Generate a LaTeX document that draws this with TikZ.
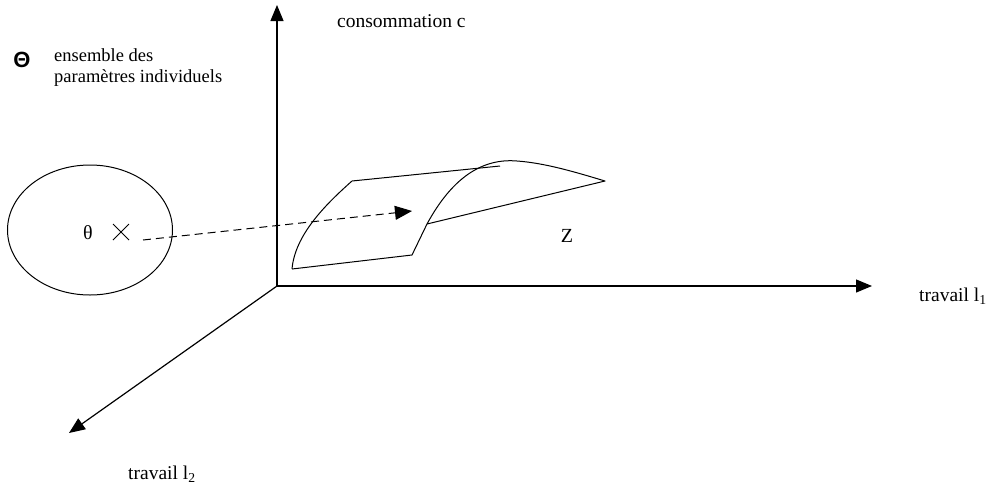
\documentclass[tikz,border=0pt]{standalone}
\usepackage{fontspec}
\setmainfont{Liberation Serif}
\newfontfamily\sansbold{Liberation Sans}
\usetikzlibrary{arrows.meta,shapes.geometric,shapes.misc}
\begin{document}
\begin{tikzpicture}[x=1pt,y=-1pt,
  axisline/.style={line width=1.2pt,-{Triangle[length=16pt,width=13pt]}},
  surf/.style={line width=1pt,line join=round},
  bigtxt/.style={inner sep=0pt,anchor=west,font=\fontsize{19.5}{24}\selectfont},
  smalltxt/.style={inner sep=0pt,anchor=north west,align=left,font=\fontsize{18.5}{21}\selectfont},
  dasharrow/.style={line width=1pt,dash pattern=on 8pt off 5pt,-{Triangle[length=17pt,width=14pt]}}]
\useasboundingbox (0,0) rectangle (997,488);
% axes
\coordinate (O) at (277,286);
\coordinate (ctop) at (277,5);
\coordinate (l1end) at (872,286);
\coordinate (l2end) at (69,433);
\draw[axisline] (O) -- (ctop);
\draw[axisline] (O) -- (l1end);
\draw[axisline] (O) -- (l2end);
% labels
\node[bigtxt] (lc) at (337,21) {consommation c};
\node[bigtxt] (ll1) at (919,296) {travail l\textsubscript{1}};
\node[bigtxt] (ll2) at (128,474) {travail l\textsubscript{2}};
\node[inner sep=0pt,font=\sansbold\bfseries\fontsize{22}{24}\selectfont] (Th) at (22,60) {Θ};
\node[smalltxt] (ens) at (54,48) {ensemble des\\paramètres individuels};
% parameter set
\node[draw,ellipse,line width=1pt,minimum width=165pt,minimum height=130pt,inner sep=0pt] (set) at (90,230) {};
\node[inner sep=0pt,font=\fontsize{20}{24}\selectfont] (th) at (88,233) {θ};
\node[draw,cross out,line width=1pt,minimum size=15pt,inner sep=0pt] (x) at (121,232) {};
% surface
\coordinate (A) at (292,269);
\coordinate (B) at (352,181);
\coordinate (C) at (500,166);
\coordinate (D) at (412,255);
\coordinate (E) at (427,224);
\coordinate (F) at (517,161);
\coordinate (G) at (605,181);
\draw[surf] (A) .. controls (295,235) and (325,205) .. (B) -- (C);
\draw[surf] (A) -- (D) -- (E) .. controls (452,178) and (482,158) .. (F) .. controls (545,163) and (575,172) .. (G) -- (E);
\node[inner sep=0pt,font=\fontsize{20}{24}\selectfont] (Z) at (567,236) {Z};
% dashed arrow
\coordinate (ds) at (143,240);
\coordinate (de) at (412,211);
\draw[dasharrow] (ds) -- (de);
\end{tikzpicture}
\end{document}
